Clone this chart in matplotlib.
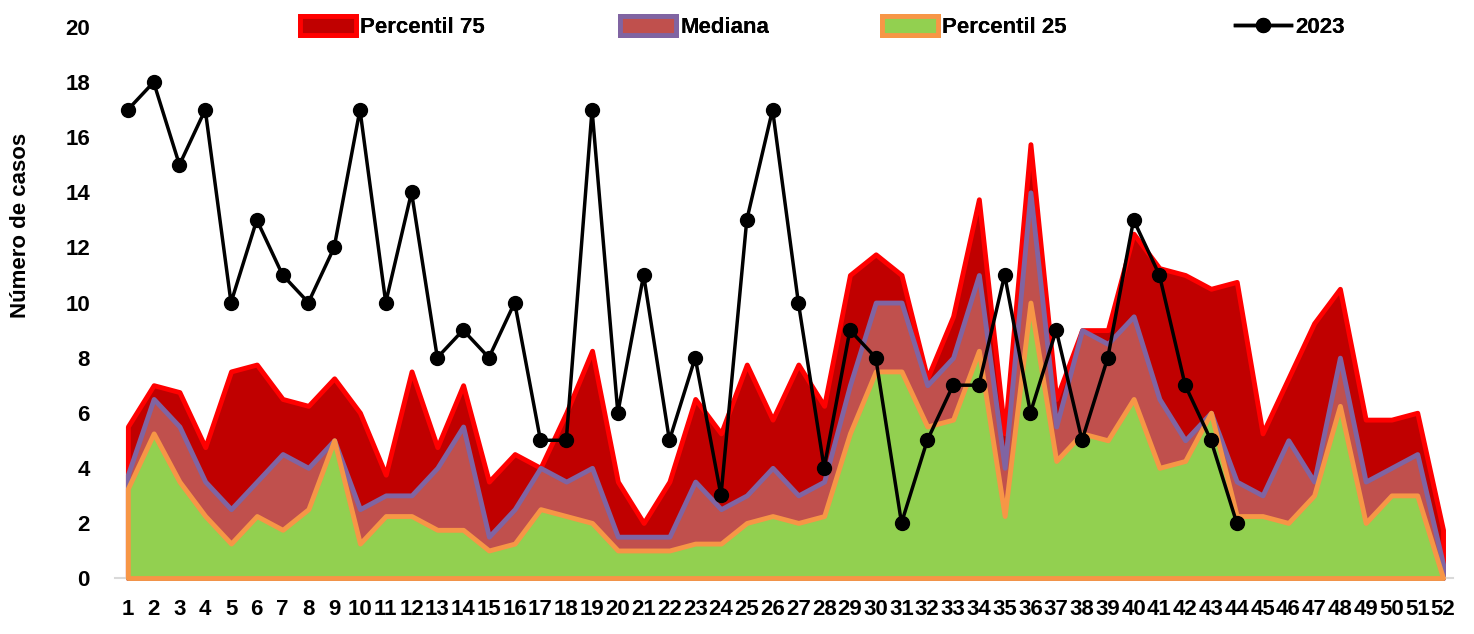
import matplotlib
matplotlib.use("Agg")
import matplotlib.pyplot as plt

plt.rcParams["font.family"] = ["Liberation Sans Narrow", "Liberation Sans", "DejaVu Sans"]
plt.rcParams["font.weight"] = "bold"

semanas = list(range(1, 53))

p75 = [5.5, 7.0, 6.75, 4.75, 7.5, 7.75, 6.5, 6.25, 7.25, 6.0,
       3.75, 7.5, 4.75, 7.0, 3.5, 4.5, 4.0, 6.0, 8.25, 3.5,
       2.0, 3.5, 6.5, 5.25, 7.75, 5.75, 7.75, 6.25, 11.0, 11.75,
       11.0, 7.25, 9.5, 13.75, 5.25, 15.75, 6.5, 9.0, 9.0, 12.5,
       11.25, 11.0, 10.5, 10.75, 5.25, 7.25, 9.25, 10.5, 5.75, 5.75,
       6.0, 1.75]

mediana = [3.75, 6.5, 5.5, 3.5, 2.5, 3.5, 4.5, 4.0, 5.0, 2.5,
           3.0, 3.0, 4.0, 5.5, 1.5, 2.5, 4.0, 3.5, 4.0, 1.5,
           1.5, 1.5, 3.5, 2.5, 3.0, 4.0, 3.0, 3.5, 7.0, 10.0,
           10.0, 7.0, 8.0, 11.0, 4.0, 14.0, 5.5, 9.0, 8.5, 9.5,
           6.5, 5.0, 6.0, 3.5, 3.0, 5.0, 3.5, 8.0, 3.5, 4.0,
           4.5, 0.5]

p25 = [3.25, 5.25, 3.5, 2.25, 1.25, 2.25, 1.75, 2.5, 5.0, 1.25,
       2.25, 2.25, 1.75, 1.75, 1.0, 1.25, 2.5, 2.25, 2.0, 1.0,
       1.0, 1.0, 1.25, 1.25, 2.0, 2.25, 2.0, 2.25, 5.25, 7.5,
       7.5, 5.5, 5.75, 8.25, 2.25, 10.0, 4.25, 5.25, 5.0, 6.5,
       4.0, 4.25, 6.0, 2.25, 2.25, 2.0, 3.0, 6.25, 2.0, 3.0,
       3.0, 0.0]

# 2023 solo hasta la semana 44
casos_2023 = [17, 18, 15, 17, 10, 13, 11, 10, 12, 17,
              10, 14, 8, 9, 8, 10, 5, 5, 17, 6,
              11, 5, 8, 3, 13, 17, 10, 4, 9, 8,
              2, 5, 7, 7, 11, 6, 9, 5, 8, 13,
              11, 7, 5, 2]

fig = plt.figure(figsize=(14.74, 6.34), dpi=100)
ax = fig.add_axes([0.078, 0.0883, 0.908, 0.869])

h75 = ax.fill_between(semanas, 0, p75, facecolor="#C00000", edgecolor="#FF0000",
                      linewidth=3.5, label="Percentil 75", clip_on=False, zorder=1)
hmed = ax.fill_between(semanas, 0, mediana, facecolor="#C0504D", edgecolor="#8064A2",
                       linewidth=3.5, label="Mediana", clip_on=False, zorder=2)
h25 = ax.fill_between(semanas, 0, p25, facecolor="#92D050", edgecolor="#F79646",
                      linewidth=3.5, label="Percentil 25", clip_on=False, zorder=3)
(h23,) = ax.plot(semanas[:len(casos_2023)], casos_2023, color="black", linewidth=2.5,
                 marker="o", markersize=10, label="2023", zorder=4)

ax.set_xlim(0.5, 52.4)
ax.set_ylim(0, 20)
ax.set_xticks(semanas)
ax.set_xticklabels([str(s) for s in semanas])
ax.set_yticks(range(0, 21, 2))
ax.tick_params(axis="both", length=0, labelsize=16)
ax.tick_params(axis="y", pad=18)
ax.tick_params(axis="x", pad=15)

for s in ["top", "right", "left"]:
    ax.spines[s].set_visible(False)
ax.spines["bottom"].set_color("#D9D9D9")
ax.spines["bottom"].set_linewidth(1.5)

fig.text(21 / 1474, 1 - 225 / 634, "Número de casos", rotation=90,
         ha="center", va="center", fontsize=16, fontweight="bold")

# leyenda: cada entrada en su propia posicion, como en Excel
entradas = [(h75, "Percentil 75", 300), (hmed, "Mediana", 620),
            (h25, "Percentil 25", 882), (h23, "2023", 1235)]
for handle, texto, x0 in entradas:
    leg = fig.legend([handle], [texto], loc="center left",
                     bbox_to_anchor=(x0 / 1474, 1 - 27 / 634),
                     frameon=False, fontsize=16, handlelength=2.5,
                     handleheight=0.9, handletextpad=0.2,
                     borderpad=0, borderaxespad=0)
    fig.add_artist(leg)

fig.savefig("out.png", dpi=100)
